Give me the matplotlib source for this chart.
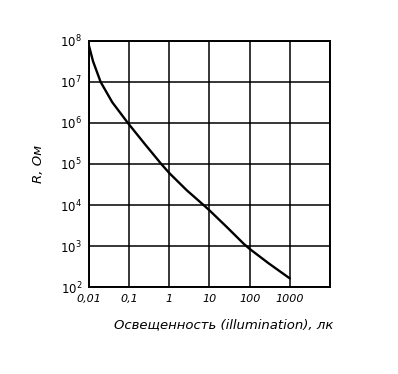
import matplotlib
matplotlib.use("Agg")
import matplotlib.pyplot as plt

# curve: illumination (lx) vs resistance (Ohm)
lux = [0.01, 0.0126, 0.0195, 0.038, 0.093, 0.25, 0.63, 1.0, 2.7,
       7.1, 10.0, 28.0, 72.0, 100.0, 295.0, 1000.0]
ohm = [7.6e7, 3.2e7, 1.0e7, 3.2e6, 1.0e6, 3.0e5, 1.0e5, 6.0e4, 2.3e4,
       1.0e4, 7.4e3, 2.8e3, 1.12e3, 8.5e2, 3.8e2, 1.62e2]

x_ticks = [0.01, 0.1, 1, 10, 100, 1000]
x_ticklabels = ["0,01", "0,1", "1", "10", "100", "1000"]
y_ticks = [1e2, 1e3, 1e4, 1e5, 1e6, 1e7, 1e8]
y_ticklabels = [r"$10^{%d}$" % e for e in range(2, 9)]

plt.rcParams["mathtext.default"] = "it"
plt.rcParams["font.family"] = ["DejaVu Sans"]

fig = plt.figure(figsize=(3.98, 3.74), dpi=100)
ax = fig.add_axes([0.2236, 0.2326, 0.6055, 0.6578])

ax.set_xscale("log")
ax.set_yscale("log")
ax.set_xlim(0.01, 1e4)
ax.set_ylim(1e2, 1e8)

ax.plot(lux, ohm, color="black", lw=1.7, solid_capstyle="round",
        solid_joinstyle="round")

ax.set_xticks(x_ticks + [1e4])
ax.set_xticklabels(x_ticklabels + [""], fontsize=8, style="italic")
ax.set_yticks(y_ticks)
ax.set_yticklabels(y_ticklabels, fontsize=8.5)
ax.minorticks_off()
ax.tick_params(length=0, pad=5)
ax.grid(True, color="black", lw=1.1)

for s in ax.spines.values():
    s.set_linewidth(1.4)

ax.set_ylabel("R, Ом", fontsize=9.5, style="italic", labelpad=11)
ax.set_xlabel("Освещенность (illumination), лк", fontsize=9.5, style="italic")
ax.xaxis.set_label_coords(0.56, -0.128)

fig.savefig("out.png", dpi=100)
